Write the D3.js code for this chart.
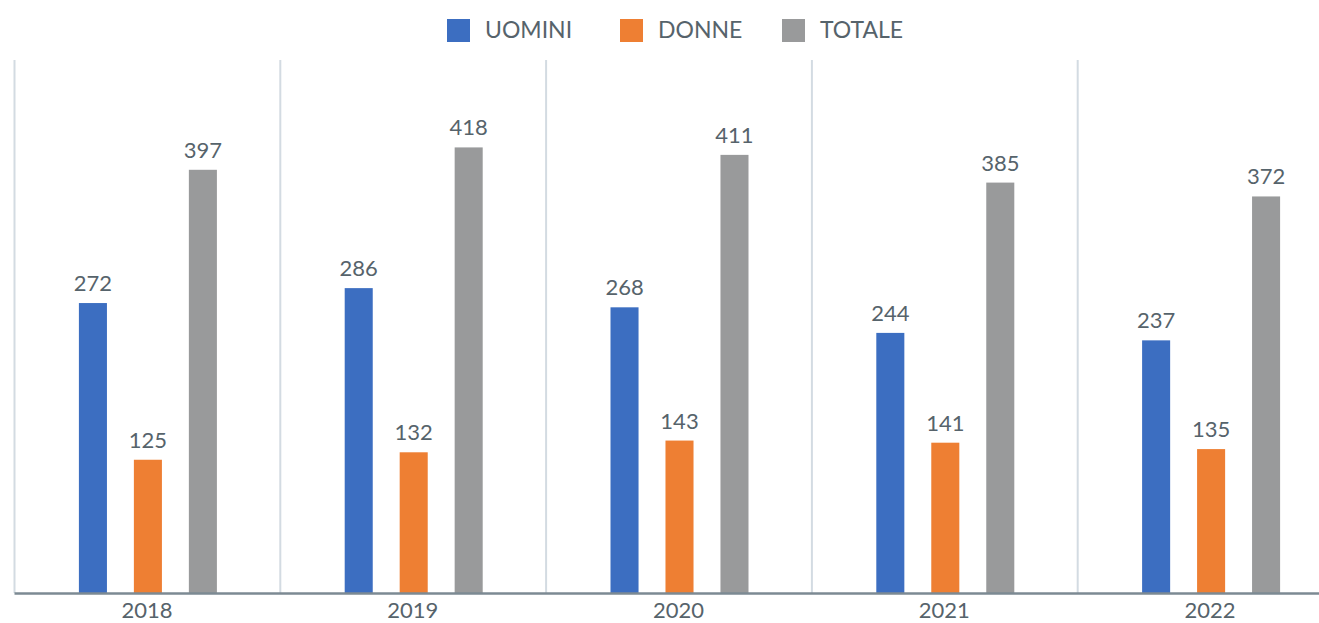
<!DOCTYPE html>
<html>
<head>
<meta charset="utf-8">
<script src="https://cdn.jsdelivr.net/npm/d3@7"></script>
<style>
    body { margin: 0; background: #fff; }
    text { font-family: Lato, "Open Sans", sans-serif; fill: #56636b; }
</style>
</head>
<body>
<script>
// data
var years = ["2018", "2019", "2020", "2021", "2022"];
var uomini = [272, 286, 268, 244, 237];
var donne = [125, 132, 143, 141, 135];
var totale = [397, 418, 411, 385, 372];
var seriesNames = ["UOMINI", "DONNE", "TOTALE"];
var seriesColors = ["#3c6ec1", "#ee7f33", "#999a9b"];

var W = 1319, H = 623;
var margin = {top: 60, left: 14, bottom: 30},
    plotRight = 1343, // last category runs past the window edge
    baseY = H - margin.bottom;

var svg = d3.select("body").append("svg")
    .attr("width", W)
    .attr("height", H);

var x0 = d3.scaleBand().domain(years).range([margin.left, plotRight]);
var x1 = d3.scaleBand().domain(seriesNames)
    .range([0, 138]).paddingInner(0.49).paddingOuter(0);
var y = d3.scaleLinear().domain([0, 500]).range([baseY, margin.top]);

var rows = years.map(function(yr, i) {
    return {year: yr, values: [uomini[i], donne[i], totale[i]]};
});

// vertical separators between the years
svg.append("g").selectAll("line")
    .data(years)
    .enter().append("line")
    .attr("x1", function(d) { return x0(d) + 0.5; })
    .attr("x2", function(d) { return x0(d) + 0.5; })
    .attr("y1", margin.top)
    .attr("y2", baseY)
    .attr("stroke", "#d3dbe2")
    .attr("stroke-width", 2);

var groups = svg.selectAll("g.year")
    .data(rows)
    .enter().append("g")
    .attr("class", "year")
    .attr("transform", function(d) {
        return "translate(" + (x0(d.year) + x0.bandwidth() / 2 - 68) + ",0)";
    });

groups.selectAll("rect")
    .data(function(d) { return d.values; })
    .enter().append("rect")
    .attr("x", function(d, i) { return x1(seriesNames[i]); })
    .attr("y", function(d) { return y(d); })
    .attr("width", x1.bandwidth())
    .attr("height", function(d) { return baseY - y(d); })
    .attr("fill", function(d, i) { return seriesColors[i]; });

groups.selectAll("text")
    .data(function(d) { return d.values; })
    .enter().append("text")
    .attr("x", function(d, i) {
        return x1(seriesNames[i]) + x1.bandwidth() / 2;
    })
    .attr("y", function(d) { return y(d) - 12; })
    .attr("text-anchor", "middle")
    .attr("font-size", "22px")
    .text(function(d) { return d; });

// x axis
var xAxis = d3.axisBottom(x0).tickSize(0).tickPadding(9);
var gx = svg.append("g")
    .attr("transform", "translate(0," + baseY + ")")
    .call(xAxis);
gx.select(".domain").attr("stroke", "#7c8a93").attr("stroke-width", 2.5);
gx.selectAll("text")
    .attr("font-size", "22px")
    .attr("font-family", "Lato, sans-serif")
    .attr("fill", "#56636b");

// legend
var legendX = [447, 620, 782];
var legend = svg.append("g").selectAll("g")
    .data(seriesNames)
    .enter().append("g")
    .attr("transform", function(d, i) {
        return "translate(" + legendX[i] + ",19)";
    });
legend.append("rect")
    .attr("width", 23).attr("height", 23)
    .attr("fill", function(d, i) { return seriesColors[i]; });
legend.append("text")
    .attr("x", 38).attr("y", 19)
    .attr("font-size", "23px")
    .text(function(d) { return d; });
</script>
</body>
</html>
